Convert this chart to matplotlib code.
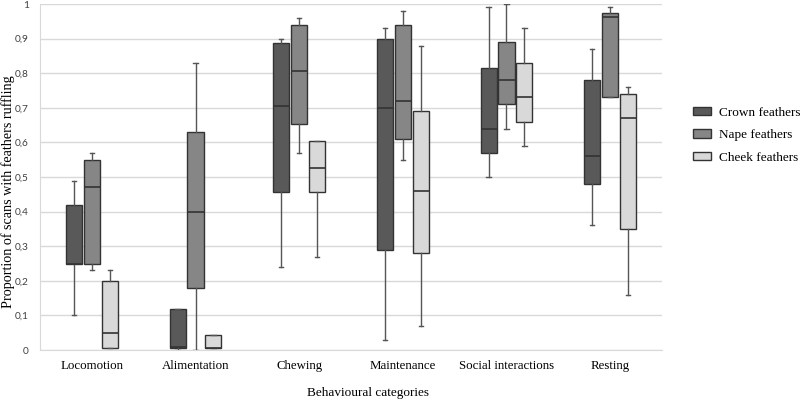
import matplotlib
matplotlib.use("Agg")
import matplotlib.pyplot as plt
from matplotlib.patches import Patch

categories = ["Locomotion", "Alimentation", "Chewing", "Maintenance", "Social interactions", "Resting"]
series = ["Crown feathers", "Nape feathers", "Cheek feathers"]
colors = ["#595959", "#868686", "#d9d9d9"]

# per series: whislo, q1, med, q3, whishi for each category
crown_lo  = [0.10, 0.00, 0.24, 0.03, 0.50, 0.36]
crown_q1  = [0.25, 0.005, 0.457, 0.29, 0.57, 0.48]
crown_med = [0.25, 0.01, 0.705, 0.70, 0.64, 0.56]
crown_q3  = [0.42, 0.12, 0.886, 0.90, 0.816, 0.78]
crown_hi  = [0.49, 0.12, 0.90, 0.93, 0.99, 0.87]

nape_lo  = [0.23, 0.00, 0.57, 0.55, 0.64, 0.73]
nape_q1  = [0.25, 0.18, 0.653, 0.61, 0.71, 0.73]
nape_med = [0.47, 0.40, 0.805, 0.72, 0.78, 0.963]
nape_q3  = [0.55, 0.63, 0.939, 0.94, 0.89, 0.973]
nape_hi  = [0.57, 0.83, 0.96, 0.98, 1.00, 0.99]

cheek_lo  = [0.005, 0.005, 0.27, 0.07, 0.59, 0.16]
cheek_q1  = [0.005, 0.005, 0.457, 0.28, 0.66, 0.35]
cheek_med = [0.05, 0.005, 0.525, 0.46, 0.73, 0.67]
cheek_q3  = [0.20, 0.045, 0.605, 0.69, 0.83, 0.74]
cheek_hi  = [0.23, 0.045, 0.605, 0.88, 0.93, 0.76]

yticks = [0, 0.1, 0.2, 0.3, 0.4, 0.5, 0.6, 0.7, 0.8, 0.9, 1]
ytick_labels = ["0", "0,1", "0,2", "0,3", "0,4", "0,5", "0,6", "0,7", "0,8", "0,9", "1"]

data = [
    (crown_lo, crown_q1, crown_med, crown_q3, crown_hi),
    (nape_lo, nape_q1, nape_med, nape_q3, nape_hi),
    (cheek_lo, cheek_q1, cheek_med, cheek_q3, cheek_hi),
]

fig = plt.figure(figsize=(8.0, 4.01), dpi=100)
ax = fig.add_axes([0.05, 0.127, 0.7775, 0.863])

offsets = [-0.173, 0.0, 0.173]
width = 0.155
for s, (lo, q1, med, q3, hi) in enumerate(data):
    stats = []
    for i in range(len(categories)):
        stats.append(dict(whislo=lo[i], q1=q1[i], med=med[i], q3=q3[i], whishi=hi[i], fliers=[]))
    pos = [i + offsets[s] for i in range(len(categories))]
    ax.bxp(stats, positions=pos, widths=width, patch_artist=True, showfliers=False,
           boxprops=dict(facecolor=colors[s], edgecolor="#333333", linewidth=1.0),
           medianprops=dict(color="#333333", linewidth=1.2),
           whiskerprops=dict(color="#555555", linewidth=1.0),
           capprops=dict(color="#555555", linewidth=1.0),
           capwidths=0.04, manage_ticks=False, zorder=3)

ax.set_xlim(-0.5, len(categories) - 0.5)
ax.set_ylim(0, 1)
ax.set_yticks(yticks)
ax.set_yticklabels(ytick_labels, fontsize=7.3, family="Lato", color="#404040")
ax.set_xticks(range(len(categories)))
ax.set_xticklabels(categories, fontsize=9.3, family="Liberation Serif")
ax.tick_params(axis="both", length=0)
ax.tick_params(axis="x", pad=7)
ax.tick_params(axis="y", pad=8)
ax.grid(axis="y", color="#d9d9d9", linewidth=1.0, zorder=0)
ax.set_axisbelow(True)
for sp in ["top", "right"]:
    ax.spines[sp].set_visible(False)
ax.spines["left"].set_color("#d9d9d9")
ax.spines["bottom"].set_color("#d9d9d9")

ax.set_xlabel("Behavioural categories", fontsize=9.5, family="Liberation Serif")
ax.xaxis.set_label_coords(0.527, -0.108)
ax.set_ylabel("Proportion of scans with feathers ruffling", fontsize=10.2, family="Liberation Serif")
ax.yaxis.set_label_coords(-0.0395, 0.457)

handles = [Patch(facecolor=c, edgecolor="#333333", linewidth=1.0) for c in colors]
fig.legend(handles, series, loc="center left", bbox_to_anchor=(0.866, 0.663), frameon=False,
           prop=dict(family="Liberation Serif", size=9.5), handlelength=1.35, handleheight=0.6,
           labelspacing=0.8, handletextpad=0.6, borderaxespad=0, borderpad=0)

fig.savefig("out.png", dpi=100)
